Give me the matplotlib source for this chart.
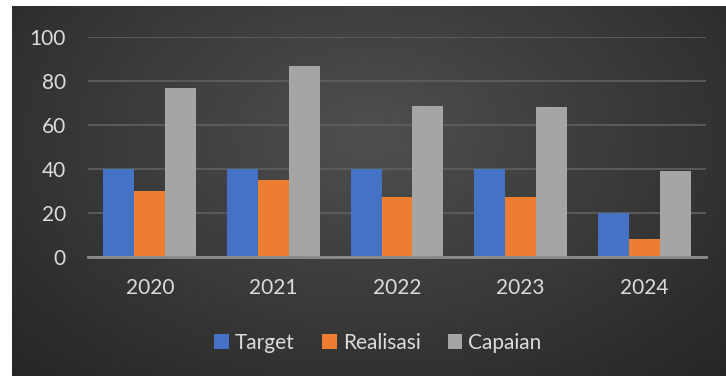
import numpy as np
import matplotlib
matplotlib.use("Agg")
import matplotlib.pyplot as plt
from matplotlib.patches import Patch

years = ["2020", "2021", "2022", "2023", "2024"]
target = [40, 40, 40, 40, 20]
realisasi = [30, 35, 27.5, 27.5, 8]
capaian = [77, 87, 68.5, 68, 39]
series_names = ["Target", "Realisasi", "Capaian"]
colors = ["#4472C4", "#ED7D31", "#A5A5A5"]
yticks = [0, 20, 40, 60, 80, 100]

W, H = 726, 376
fig = plt.figure(figsize=(W / 100, H / 100), dpi=100)
fig.patch.set_facecolor("white")

# background with radial gradient
bg = fig.add_axes([12 / W, 0, 1 - 12 / W, 1 - 6 / H])
bg.set_axis_off()
yy, xx = np.mgrid[0:1:200j, 0:1:300j]
r = np.sqrt(((xx - 0.5) / 0.7) ** 2 + ((yy - 0.35) / 0.9) ** 2)
val = 0.31 - 0.16 * np.clip(r, 0, 1.2)
bg.imshow(np.dstack([val, val, val]), aspect="auto", extent=[0, 1, 0, 1], origin="upper")

textc = "#dcdcdc"
ax = fig.add_axes([88 / W, 1 - 257 / H, (706 - 88) / W, (257 - 37) / H])
ax.patch.set_alpha(0)
x = np.arange(len(years))
w = 0.25
for i, (vals, c) in enumerate(zip([target, realisasi, capaian], colors)):
    ax.bar(x + (i - 1) * w, vals, width=w, color=c, zorder=3, edgecolor="none")
ax.set_xlim(-0.5, len(years) - 0.5)
ax.set_ylim(0, 100)
ax.set_yticks(yticks)
ax.set_yticklabels([str(t) for t in yticks], fontsize=15, color=textc, family="Lato")
ax.set_xticks(x)
ax.set_xticklabels(years, fontsize=15, color=textc, family="Lato")
ax.tick_params(length=0, axis="y", pad=16)
ax.tick_params(length=0, axis="x", pad=15)
for s in ["top", "right", "left"]:
    ax.spines[s].set_visible(False)
ax.spines["bottom"].set_color("#8c8c8c")
ax.spines["bottom"].set_linewidth(2)
ax.spines["bottom"].set_zorder(4)
ax.yaxis.grid(True, color="#5e5e5e", linewidth=1.3, zorder=0)
ax.set_axisbelow(True)

handles = [Patch(facecolor=c, edgecolor="none") for c in colors]
leg = fig.legend(handles, series_names, loc="center", bbox_to_anchor=(378 / W, 1 - 343 / H),
                 ncol=3, frameon=False, handlelength=0.7, handleheight=0.7,
                 handletextpad=0.3, columnspacing=1.3, prop={"family": "Lato", "size": 15})
for t in leg.get_texts():
    t.set_color(textc)

fig.savefig("out.png", dpi=100)
